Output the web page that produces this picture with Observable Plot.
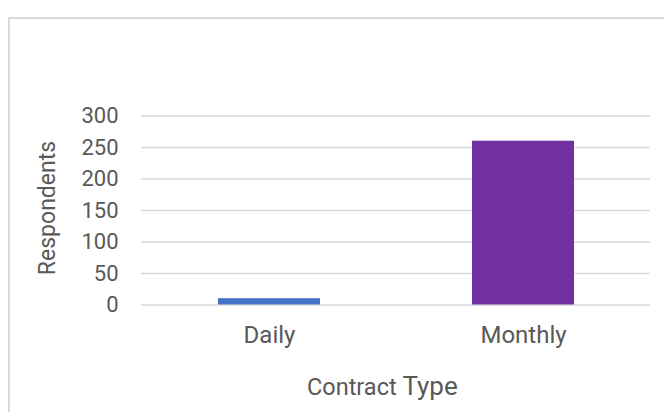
<!DOCTYPE html>
<html>
<head>
<meta charset="utf-8">
<script src="https://cdn.jsdelivr.net/npm/d3@7"></script>
<script src="https://cdn.jsdelivr.net/npm/@observablehq/plot@0.6"></script>
<style>
  html, body { margin: 0; padding: 0; background: #fff; overflow: hidden; }
  #wrap { position: relative; width: 664px; height: 412px; overflow: hidden; background: #fff; }
  #frame { position: absolute; left: 8px; top: 17px; width: 800px; height: 600px; border: 2px solid #d9d9d9; box-sizing: border-box; }
  #chart { position: absolute; left: 0; top: 0; }
</style>
</head>
<body>
<div id="wrap"><div id="frame"></div><div id="chart"></div></div>
<script>
const categories = ["Daily", "Monthly"];
const respondents = [10, 260];
const barColors = ["#4472C4", "#7030A0"];
const yTicks = [0, 50, 100, 150, 200, 250, 300];
const yTitle = "Respondents";
const xTitleParts = ["Contract", "Type"];

const data = categories.map((c, i) => ({category: c, value: respondents[i], color: barColors[i]}));

const chart = Plot.plot({
  width: 664,
  height: 412,
  marginLeft: 141,
  marginRight: 14,
  marginTop: 115.5,
  marginBottom: 107.5,
  style: {background: "transparent", color: "#595959", fontFamily: "Roboto", fontSize: "22px", overflow: "visible"},
  x: {domain: categories, paddingInner: 0.6, paddingOuter: 0.3, label: null},
  y: {domain: [0, 300], label: null},
  marks: [
    Plot.ruleY(yTicks, {stroke: "#d9d9d9", strokeWidth: 1.5}),
    Plot.barY(data, {x: "category", y: "value", fill: "color"}),
    Plot.axisY(yTicks, {tickSize: 0, tickPadding: 23, label: null, fontSize: 22}),
    Plot.axisX({tickSize: 0, tickPadding: 21, label: null, fontSize: 24})
  ]
});
document.getElementById("chart").appendChild(chart);

const svg = d3.select(chart);
svg.append("text")
  .attr("transform", "translate(55,208) rotate(-90)")
  .attr("text-anchor", "middle")
  .attr("fill", "#595959")
  .style("font-family", "Roboto")
  .style("font-size", "23px")
  .text(yTitle);

const xt = svg.append("text")
  .attr("x", 307)
  .attr("y", 395)
  .attr("text-anchor", "start")
  .attr("fill", "#595959")
  .style("font-family", "Roboto");
xt.append("tspan").style("font-size", "23.5px").text(xTitleParts[0] + " ");
xt.append("tspan").style("font-size", "26px").text(xTitleParts[1]);
</script>
</body>
</html>
